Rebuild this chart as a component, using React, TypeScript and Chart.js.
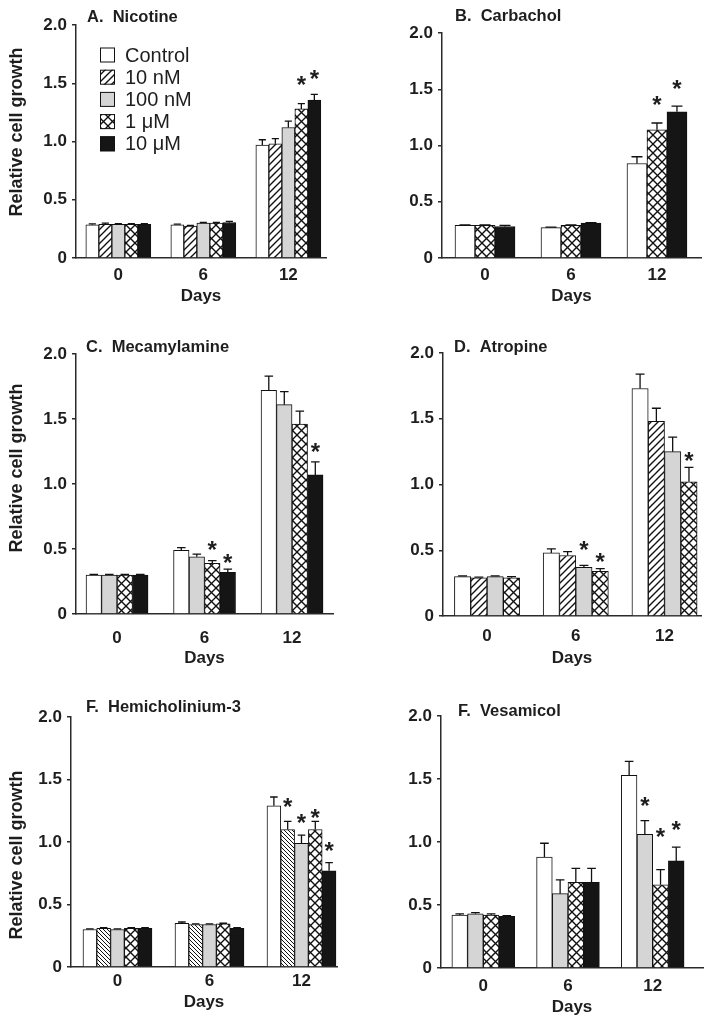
import React, { useEffect, useRef } from 'react';
import { Chart, registerables } from 'chart.js';

Chart.register(...registerables);

// ---------- shared labels ----------
const days = ['0', '6', '12'];
const dayPositions = [0, 1, 2];
const yTicks = [0, 0.5, 1, 1.5, 2];
const yTickLabels = ['0', '0.5', '1.0', '1.5', '2.0'];
const legendLabels = ['Control', '10 nM', '100 nM', '1 \u03bcM', '10 \u03bcM'];
const xTitle = 'Days';
const yTitle = 'Relative cell growth';

// ---------- A. Nicotine ----------
const nicControl = [0.285, 0.285, 0.97];
const nicControlErr = [0.008, 0.005, 0.045];
const nic10nM = [0.29, 0.275, 0.98];
const nic10nMErr = [0.01, 0.005, 0.045];
const nic100nM = [0.29, 0.3, 1.12];
const nic100nMErr = [0.005, 0.005, 0.055];
const nic1uM = [0.29, 0.3, 1.28];
const nic1uMErr = [0.005, 0.005, 0.045];
const nic1uMStars = [null, null, 1.53];
const nic10uM = [0.29, 0.305, 1.355];
const nic10uMErr = [0.005, 0.01, 0.05];
const nic10uMStars = [null, null, 1.58];

// ---------- B. Carbachol ----------
const carControl = [0.29, 0.27, 0.84];
const carControlErr = [0.005, 0.005, 0.06];
const car1uM = [0.29, 0.29, 1.14];
const car1uMErr = [0.005, 0.005, 0.06];
const car1uMStars = [null, null, 1.41];
const car10uM = [0.28, 0.31, 1.3];
const car10uMErr = [0.01, 0.005, 0.05];
const car10uMStars = [null, null, 1.55];

// ---------- C. Mecamylamine ----------
const mecControl = [0.3, 0.49, 1.72];
const mecControlErr = [0.005, 0.02, 0.11];
const mec100nM = [0.3, 0.44, 1.61];
const mec100nMErr = [0.005, 0.02, 0.1];
const mec1uM = [0.3, 0.39, 1.46];
const mec1uMErr = [0.005, 0.02, 0.1];
const mec1uMStars = [null, 0.53, null];
const mec10uM = [0.3, 0.32, 1.07];
const mec10uMErr = [0.005, 0.025, 0.1];
const mec10uMStars = [null, 0.43, 1.29];

// ---------- D. Atropine ----------
const atrControl = [0.3, 0.48, 1.73];
const atrControlErr = [0.005, 0.03, 0.11];
const atr10nM = [0.29, 0.46, 1.48];
const atr10nMErr = [0.005, 0.03, 0.1];
const atr100nM = [0.3, 0.37, 1.25];
const atr100nMErr = [0.005, 0.015, 0.11];
const atr100nMStars = [null, 0.54, null];
const atr1uM = [0.29, 0.34, 1.02];
const atr1uMErr = [0.01, 0.02, 0.11];
const atr1uMStars = [null, 0.45, 1.22];

// ---------- F. Hemicholinium-3 ----------
const hemControl = [0.3, 0.35, 1.29];
const hemControlErr = [0.005, 0.01, 0.07];
const hem10nM = [0.31, 0.34, 1.1];
const hem10nMErr = [0.005, 0.005, 0.065];
const hem10nMStars = [null, null, 1.32];
const hem100nM = [0.3, 0.34, 0.99];
const hem100nMErr = [0.005, 0.005, 0.065];
const hem100nMStars = [null, null, 1.19];
const hem1uM = [0.31, 0.345, 1.1];
const hem1uMErr = [0.005, 0.005, 0.065];
const hem1uMStars = [null, null, 1.23];
const hem10uM = [0.31, 0.31, 0.77];
const hem10uMErr = [0.005, 0.005, 0.065];
const hem10uMStars = [null, null, 0.97];

// ---------- F. Vesamicol ----------
const vesControl = [0.42, 0.88, 1.53];
const vesControlErr = [0.01, 0.11, 0.11];
const ves100nM = [0.43, 0.59, 1.06];
const ves100nMErr = [0.01, 0.11, 0.11];
const ves100nMStars = [null, null, 1.33];
const ves1uM = [0.42, 0.68, 0.66];
const ves1uMErr = [0.01, 0.11, 0.12];
const ves1uMStars = [null, null, 1.08];
const ves10uM = [0.41, 0.68, 0.85];
const ves10uMErr = [0.005, 0.11, 0.11];
const ves10uMStars = [null, null, 1.14];

const none = [null, null, null];

// ---------- styling ----------
const FONT = '"Liberation Sans", Arial, Helvetica, sans-serif';
const TEXT = '#1e1e1e';
const AXIS = '#2a2a2a';

type Kind = 'white' | 'diag' | 'back' | 'gray' | 'cross' | 'black';

interface Series {
  label: string;
  kind: Kind;
  values: number[];
  errors: number[];
  stars: (number | null)[];
}

interface Panel {
  title: string;
  series: Series[];
  box: { x: number; y: number; w: number; h: number };
  area: { l: number; t: number; r: number; b: number };
  xRange: [number, number];
  barWidth: number;
  titlePos: [number, number];
  yTitlePos?: [number, number];
  tickPad: number;
  daysPad: number;
  legend?: boolean;
}

const panels: Panel[] = [
  {
    title: 'A.  Nicotine',
    series: [
      { label: legendLabels[0], kind: 'white', values: nicControl, errors: nicControlErr, stars: none },
      { label: legendLabels[1], kind: 'diag', values: nic10nM, errors: nic10nMErr, stars: none },
      { label: legendLabels[2], kind: 'gray', values: nic100nM, errors: nic100nMErr, stars: none },
      { label: legendLabels[3], kind: 'cross', values: nic1uM, errors: nic1uMErr, stars: nic1uMStars },
      { label: legendLabels[4], kind: 'black', values: nic10uM, errors: nic10uMErr, stars: nic10uMStars },
    ],
    box: { x: 0, y: 0, w: 356, h: 310 },
    area: { l: 76, t: 25, r: 326, b: 258 },
    xRange: [-0.498, 2.443],
    barWidth: 13,
    titlePos: [87, 17],
    yTitlePos: [17, 132],
    tickPad: 6.8,
    daysPad: 3.8,
    legend: true,
  },
  {
    title: 'B.  Carbachol',
    series: [
      { label: legendLabels[0], kind: 'white', values: carControl, errors: carControlErr, stars: none },
      { label: legendLabels[3], kind: 'cross', values: car1uM, errors: car1uMErr, stars: car1uMStars },
      { label: legendLabels[4], kind: 'black', values: car10uM, errors: car10uMErr, stars: car10uMStars },
    ],
    box: { x: 356, y: 0, w: 356, h: 310 },
    area: { l: 442, t: 33, r: 701, b: 258 },
    xRange: [-0.5, 2.512],
    barWidth: 20,
    titlePos: [455, 16],
    tickPad: 6.8,
    daysPad: 3.8,
  },
  {
    title: 'C.  Mecamylamine',
    series: [
      { label: legendLabels[0], kind: 'white', values: mecControl, errors: mecControlErr, stars: none },
      { label: legendLabels[2], kind: 'gray', values: mec100nM, errors: mec100nMErr, stars: none },
      { label: legendLabels[3], kind: 'cross', values: mec1uM, errors: mec1uMErr, stars: mec1uMStars },
      { label: legendLabels[4], kind: 'black', values: mec10uM, errors: mec10uMErr, stars: mec10uMStars },
    ],
    box: { x: 0, y: 318, w: 356, h: 354 },
    area: { l: 76, t: 354, r: 333, b: 614 },
    xRange: [-0.469, 2.468],
    barWidth: 15.5,
    titlePos: [86, 347],
    yTitlePos: [17, 468],
    tickPad: 13.8,
    daysPad: 3.8,
  },
  {
    title: 'D.  Atropine',
    series: [
      { label: legendLabels[0], kind: 'white', values: atrControl, errors: atrControlErr, stars: none },
      { label: legendLabels[1], kind: 'diag', values: atr10nM, errors: atr10nMErr, stars: none },
      { label: legendLabels[2], kind: 'gray', values: atr100nM, errors: atr100nMErr, stars: atr100nMStars },
      { label: legendLabels[3], kind: 'cross', values: atr1uM, errors: atr1uMErr, stars: atr1uMStars },
    ],
    box: { x: 356, y: 318, w: 356, h: 354 },
    area: { l: 443, t: 353, r: 701, b: 616 },
    xRange: [-0.496, 2.411],
    barWidth: 16.3,
    titlePos: [454, 347],
    tickPad: 10.5,
    daysPad: 3.8,
  },
  {
    title: 'F.  Hemicholinium-3',
    series: [
      { label: legendLabels[0], kind: 'white', values: hemControl, errors: hemControlErr, stars: none },
      { label: legendLabels[1], kind: 'back', values: hem10nM, errors: hem10nMErr, stars: hem10nMStars },
      { label: legendLabels[2], kind: 'gray', values: hem100nM, errors: hem100nMErr, stars: hem100nMStars },
      { label: legendLabels[3], kind: 'cross', values: hem1uM, errors: hem1uMErr, stars: hem1uMStars },
      { label: legendLabels[4], kind: 'black', values: hem10uM, errors: hem10uMErr, stars: hem10uMStars },
    ],
    box: { x: 0, y: 678, w: 356, h: 347 },
    area: { l: 71, t: 717, r: 337, b: 967 },
    xRange: [-0.505, 2.386],
    barWidth: 13.8,
    titlePos: [86, 707],
    yTitlePos: [17, 855],
    tickPad: 4.5,
    daysPad: 12.8,
  },
  {
    title: 'F.  Vesamicol',
    series: [
      { label: legendLabels[0], kind: 'white', values: vesControl, errors: vesControlErr, stars: none },
      { label: legendLabels[2], kind: 'gray', values: ves100nM, errors: ves100nMErr, stars: ves100nMStars },
      { label: legendLabels[3], kind: 'cross', values: ves1uM, errors: ves1uMErr, stars: ves1uMStars },
      { label: legendLabels[4], kind: 'black', values: ves10uM, errors: ves10uMErr, stars: ves10uMStars },
    ],
    box: { x: 356, y: 678, w: 356, h: 347 },
    area: { l: 441, t: 716, r: 703, b: 968 },
    xRange: [-0.499, 2.594],
    barWidth: 15.7,
    titlePos: [458, 711],
    tickPad: 8.5,
    daysPad: 7.8,
  },
];

function makeFill(kind: Kind): string | CanvasPattern {
  if (kind === 'white') return '#ffffff';
  if (kind === 'gray') return '#d5d5d5';
  if (kind === 'black') return '#151515';
  const size = kind === 'diag' ? 7 : kind === 'back' ? 4 : 9;
  const c = document.createElement('canvas');
  c.width = size;
  c.height = size;
  const g = c.getContext('2d') as CanvasRenderingContext2D;
  g.fillStyle = '#ffffff';
  g.fillRect(0, 0, size, size);
  g.strokeStyle = '#111111';
  g.lineWidth = kind === 'back' ? 1 : 1.4;
  const fwd = () => {
    g.beginPath();
    for (const o of [-size, 0, size]) {
      g.moveTo(o - 1, size + 1);
      g.lineTo(o + size + 1, -1);
    }
    g.stroke();
  };
  const bwd = () => {
    g.beginPath();
    for (const o of [-size, 0, size]) {
      g.moveTo(o - 1, -1);
      g.lineTo(o + size + 1, size + 1);
    }
    g.stroke();
  };
  if (kind === 'diag') fwd();
  else if (kind === 'back') bwd();
  else {
    fwd();
    bwd();
  }
  return g.createPattern(c, 'repeat') as CanvasPattern;
}

function overlayPlugin(panel: Panel, fills: (string | CanvasPattern)[]) {
  const { box } = panel;
  return {
    id: 'overlay',
    afterDatasetsDraw(chart: any) {
      const ctx: CanvasRenderingContext2D = chart.ctx;
      const ys = chart.scales.y;
      ctx.save();
      panel.series.forEach((s, i) => {
        const meta = chart.getDatasetMeta(i);
        meta.data.forEach((el: any, j: number) => {
          const x = el.x;
          const top = ys.getPixelForValue(s.values[j]);
          const et = ys.getPixelForValue(s.values[j] + s.errors[j]);
          const cw = panel.barWidth * 0.55;
          ctx.strokeStyle = '#111111';
          ctx.lineWidth = 1.3;
          ctx.beginPath();
          ctx.moveTo(x, top);
          ctx.lineTo(x, et);
          ctx.moveTo(x - cw / 2, et);
          ctx.lineTo(x + cw / 2, et);
          ctx.stroke();
          const st = s.stars[j];
          if (st != null) {
            const sy = ys.getPixelForValue(st);
            ctx.fillStyle = TEXT;
            ctx.font = `bold 24px ${FONT}`;
            ctx.textAlign = 'center';
            ctx.textBaseline = 'alphabetic';
            ctx.fillText('*', x, sy + 0.55 * 24);
          }
        });
      });
      ctx.restore();
    },
    afterDraw(chart: any) {
      const ctx: CanvasRenderingContext2D = chart.ctx;
      ctx.save();
      ctx.fillStyle = TEXT;
      ctx.font = `bold 16.5px ${FONT}`;
      ctx.textAlign = 'left';
      ctx.textBaseline = 'middle';
      ctx.fillText(panel.title, panel.titlePos[0] - box.x, panel.titlePos[1] - box.y);
      if (panel.yTitlePos) {
        ctx.save();
        ctx.translate(panel.yTitlePos[0] - box.x, panel.yTitlePos[1] - box.y);
        ctx.rotate(-Math.PI / 2);
        ctx.font = `bold 18px ${FONT}`;
        ctx.textAlign = 'center';
        ctx.textBaseline = 'middle';
        ctx.fillText(yTitle, 0, 0);
        ctx.restore();
      }
      if (panel.legend) {
        panel.series.forEach((s, i) => {
          const cy = 55 + i * 22.2 - box.y;
          const bx = 100 - box.x;
          ctx.fillStyle = fills[i] as any;
          ctx.fillRect(bx, cy - 7.5, 15, 15);
          ctx.strokeStyle = '#111111';
          ctx.lineWidth = 1;
          ctx.strokeRect(bx + 0.5, cy - 7, 14, 14);
          ctx.fillStyle = TEXT;
          ctx.font = `20px ${FONT}`;
          ctx.textAlign = 'left';
          ctx.textBaseline = 'middle';
          ctx.fillText(s.label, 125 - box.x, cy + 1);
        });
      }
      ctx.restore();
    },
  };
}

function PanelChart({ panel }: { panel: Panel }) {
  const ref = useRef<HTMLCanvasElement>(null);
  useEffect(() => {
    const canvas = ref.current as HTMLCanvasElement;
    const { box, area } = panel;
    const yWidth = area.l - box.x;
    const xHeight = box.y + box.h - area.b;
    const fills = panel.series.map((s) => makeFill(s.kind));
    const chart = new Chart(canvas, {
      type: 'bar',
      data: {
        datasets: panel.series.map((s, i) => ({
          label: s.label,
          data: s.values.map((v, j) => ({ x: dayPositions[j], y: v })),
          backgroundColor: fills[i] as any,
          borderColor: '#111111',
          borderWidth: 1,
          borderSkipped: 'start',
          barThickness: panel.barWidth,
        })),
      },
      options: {
        responsive: false,
        animation: false,
        devicePixelRatio: 1,
        layout: {
          padding: { top: area.t - box.y, right: box.x + box.w - area.r, left: 0, bottom: 0 },
        },
        plugins: {
          legend: { display: false },
          tooltip: { enabled: false },
          title: { display: false },
        },
        scales: {
          x: {
            type: 'linear',
            min: panel.xRange[0],
            max: panel.xRange[1],
            offset: false,
            afterBuildTicks: (s: any) => {
              s.ticks = dayPositions.map((v) => ({ value: v }));
            },
            afterFit: (s: any) => {
              s.height = xHeight;
            },
            grid: { display: false, drawTicks: false },
            border: { display: true, color: AXIS, width: 1.5 },
            ticks: {
              autoSkip: false,
              maxRotation: 0,
              padding: panel.tickPad,
              color: TEXT,
              font: { family: FONT, size: 17, weight: 'bold' },
              callback: (v: any) => {
                const k = dayPositions.indexOf(Number(v));
                return k >= 0 ? days[k] : '';
              },
            },
            title: {
              display: true,
              text: xTitle,
              color: TEXT,
              font: { family: FONT, size: 17, weight: 'bold' },
              padding: { top: 0, bottom: panel.daysPad },
            },
          },
          y: {
            type: 'linear',
            min: 0,
            max: 2,
            afterBuildTicks: (s: any) => {
              s.ticks = yTicks.map((v) => ({ value: v }));
            },
            afterFit: (s: any) => {
              s.width = yWidth;
            },
            grid: {
              display: true,
              drawOnChartArea: false,
              drawTicks: true,
              tickLength: 4,
              color: AXIS,
              lineWidth: 1.5,
            },
            border: { display: true, color: AXIS, width: 1.5 },
            ticks: {
              padding: 5,
              color: TEXT,
              font: { family: FONT, size: 17, weight: 'bold' },
              callback: (v: any) => {
                const k = yTicks.indexOf(Number(v));
                return k >= 0 ? yTickLabels[k] : '';
              },
            },
          },
        },
      },
      plugins: [overlayPlugin(panel, fills)],
    } as any);
    return () => chart.destroy();
  }, [panel]);
  const { box } = panel;
  return (
    <canvas
      ref={ref}
      width={box.w}
      height={box.h}
      style={{ position: 'absolute', left: box.x, top: box.y, width: box.w, height: box.h }}
    />
  );
}

export default function App() {
  return (
    <div
      style={{
        position: 'absolute',
        left: 0,
        top: 0,
        width: 712,
        height: 1025,
        background: '#ffffff',
        overflow: 'hidden',
      }}
    >
      {panels.map((p, i) => (
        <PanelChart key={i} panel={p} />
      ))}
    </div>
  );
}
